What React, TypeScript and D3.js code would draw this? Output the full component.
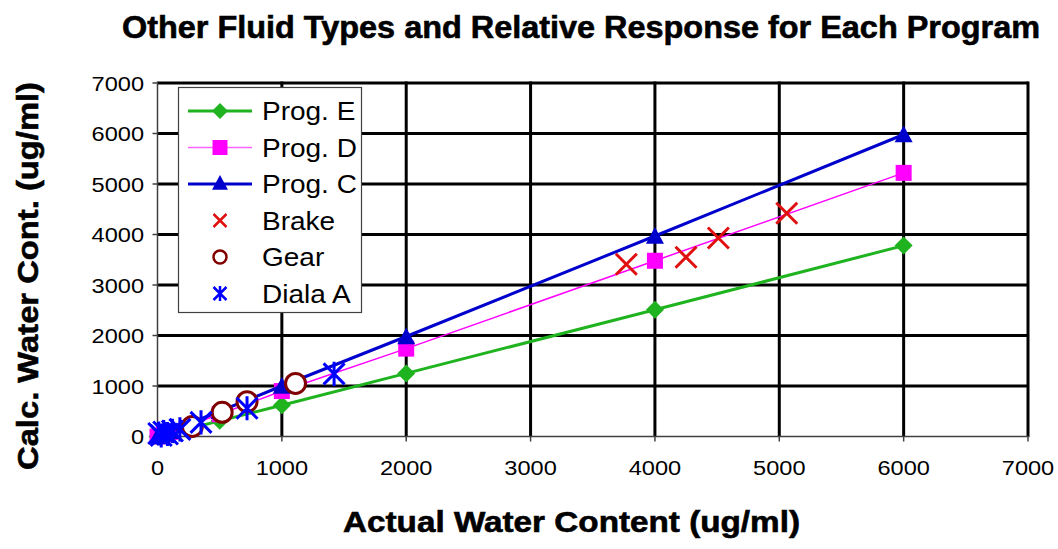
import React from "react";
import * as d3 from "d3";

// ---- data ----
const progX = [0, 50, 100, 500, 1000, 2000, 4000, 6000];
const progE = [0, 30, 60, 310, 620, 1250, 2510, 3780];
const progD = [0, 45, 90, 440, 900, 1740, 3480, 5220];
const progC = [0, 50, 100, 500, 1000, 1980, 3970, 5980];

const brakeX = [3770, 4250, 4510, 5060];
const brakeY = [3410, 3550, 3930, 4420];

const gearX = [280, 520, 720, 1110];
const gearY = [200, 480, 690, 1050];

const dialaX = [10, 30, 50, 80, 120, 180, 350, 720, 1420];
const dialaY = [60, 20, 90, 50, 110, 140, 280, 560, 1240];

const xTicks = [0, 1000, 2000, 3000, 4000, 5000, 6000, 7000];
const yTicks = [0, 1000, 2000, 3000, 4000, 5000, 6000, 7000];

const legendLabels = ["Prog. E", "Prog. D", "Prog. C", "Brake", "Gear", "Diala A"];

const GREEN = "#1fb31f";
const MAGENTA = "#ff00ff";
const BLUE_LINE = "#0000cc";
const BLUE = "#0000ff";
const RED = "#e01010";
const GEAR = "#800000";

const FONT = "'Liberation Sans', Arial, sans-serif";

function ST({ x, y, sx = 1.15, size = 20, anchor = "start", weight = "normal", children }: any) {
  return (
    <g transform={`translate(${x},${y}) scale(${sx},1)`}>
      <text x={0} y={0} fontSize={size} fontFamily={FONT} fontWeight={weight} textAnchor={anchor} fill="#000">
        {children}
      </text>
    </g>
  );
}

function Diamond({ cx, cy, r, fill }: any) {
  return <path d={`M${cx},${cy - r}L${cx + r},${cy}L${cx},${cy + r}L${cx - r},${cy}Z`} fill={fill} />;
}
function Square({ cx, cy, r, fill }: any) {
  return <rect x={cx - r} y={cy - r} width={2 * r} height={2 * r} fill={fill} />;
}
function Triangle({ cx, cy, r, fill }: any) {
  return <path d={`M${cx},${cy - r}L${cx + r},${cy + r * 0.85}L${cx - r},${cy + r * 0.85}Z`} fill={fill} />;
}
function Cross({ cx, cy, r, stroke, w }: any) {
  return (
    <path
      d={`M${cx - r},${cy - r}L${cx + r},${cy + r}M${cx - r},${cy + r}L${cx + r},${cy - r}`}
      stroke={stroke}
      strokeWidth={w}
      fill="none"
    />
  );
}
function Star({ cx, cy, r, stroke, w }: any) {
  return (
    <path
      d={`M${cx - r},${cy - r}L${cx + r},${cy + r}M${cx - r},${cy + r}L${cx + r},${cy - r}M${cx},${cy - r * 1.15}L${cx},${cy + r * 1.15}`}
      stroke={stroke}
      strokeWidth={w}
      fill="none"
    />
  );
}

export default function App() {
  const W = 1058;
  const H = 549;
  const x = d3.scaleLinear().domain([0, 7000]).range([157.5, 1028]);
  const y = d3.scaleLinear().domain([0, 7000]).range([436.5, 83]);

  const line = d3
    .line<[number, number]>()
    .x((d) => x(d[0]))
    .y((d) => y(d[1]));

  const ptsE = progX.map((v, i) => [v, progE[i]] as [number, number]);
  const ptsD = progX.map((v, i) => [v, progD[i]] as [number, number]);
  const ptsC = progX.map((v, i) => [v, progC[i]] as [number, number]);

  const legX = 178.5;
  const legY = 87.5;
  const legW = 183;
  const legH = 225;
  const rowY = (i: number) => 111 + i * 36.5;

  return (
    <svg width={W} height={H} style={{ position: "absolute", left: 0, top: 0, background: "#fff" }}>
      <rect x={0} y={0} width={W} height={H} fill="#fff" />
      {/* title */}
      <text
        x={122}
        y={38}
        fontSize={31}
        fontWeight="bold"
        fontFamily={FONT}
        textLength={918}
        lengthAdjust="spacingAndGlyphs"
        stroke="#000"
        strokeWidth={0.6}
      >
        Other Fluid Types and Relative Response for Each Program
      </text>

      {/* gridlines */}
      {yTicks.filter((t) => t > 0).map((t) => (
        <line key={"hy" + t} x1={x(0)} x2={x(7000)} y1={y(t)} y2={y(t)} stroke="#000" strokeWidth={3} />
      ))}
      {xTicks.filter((t) => t > 0).map((t) => (
        <line key={"vx" + t} x1={x(t)} x2={x(t)} y1={y(0)} y2={y(7000) - 1.5} stroke="#000" strokeWidth={3} />
      ))}

      {/* axes */}
      <line x1={x(0)} x2={x(0)} y1={y(0)} y2={y(7000) - 1.5} stroke="#404040" strokeWidth={1.5} />
      <line x1={x(0)} x2={x(7000) + 1.5} y1={y(0)} y2={y(0)} stroke="#404040" strokeWidth={1.5} />
      {yTicks.map((t) => (
        <line key={"ty" + t} x1={x(0) - 5} x2={x(0)} y1={y(t)} y2={y(t)} stroke="#404040" strokeWidth={1.5} />
      ))}
      {xTicks.map((t) => (
        <line key={"tx" + t} x1={x(t)} x2={x(t)} y1={y(0)} y2={y(0) + 5} stroke="#404040" strokeWidth={1.5} />
      ))}

      {/* tick labels */}
      {yTicks.map((t) => (
        <ST key={"ly" + t} x={144} y={y(t) + 7.5} anchor="end" size={20.5}>
          {t}
        </ST>
      ))}
      {xTicks.map((t) => (
        <ST key={"lx" + t} x={x(t)} y={475} anchor="middle" size={20.5}>
          {t}
        </ST>
      ))}

      {/* axis titles */}
      <text
        x={343}
        y={532}
        fontSize={29}
        fontWeight="bold"
        fontFamily={FONT}
        textLength={457}
        lengthAdjust="spacingAndGlyphs"
        stroke="#000"
        strokeWidth={0.6}
      >
        Actual Water Content (ug/ml)
      </text>
      <text
        transform={`translate(38,470) rotate(-90)`}
        x={0}
        y={0}
        fontSize={30}
        fontWeight="bold"
        fontFamily={FONT}
        textLength={388}
        lengthAdjust="spacingAndGlyphs"
        stroke="#000"
        strokeWidth={0.6}
      >
        Calc. Water Cont. (ug/ml)
      </text>

      {/* Prog. E */}
      <path d={line(ptsE) || ""} stroke={GREEN} strokeWidth={3} fill="none" />
      {ptsE.map((p, i) => (
        <Diamond key={"e" + i} cx={x(p[0])} cy={y(p[1])} r={9} fill={GREEN} />
      ))}
      {/* Prog. D */}
      <path d={line(ptsD) || ""} stroke={MAGENTA} strokeWidth={1.5} fill="none" />
      {ptsD.map((p, i) => (
        <Square key={"d" + i} cx={x(p[0])} cy={y(p[1])} r={8} fill={MAGENTA} />
      ))}
      {/* Prog. C */}
      <path d={line(ptsC) || ""} stroke={BLUE_LINE} strokeWidth={3} fill="none" />
      {ptsC.map((p, i) => (
        <Triangle key={"c" + i} cx={x(p[0])} cy={y(p[1])} r={9} fill={BLUE_LINE} />
      ))}
      {/* Brake */}
      {brakeX.map((v, i) => (
        <Cross key={"b" + i} cx={x(v)} cy={y(brakeY[i])} r={10.5} stroke={RED} w={3} />
      ))}
      {/* Gear */}
      {gearX.map((v, i) => (
        <circle key={"g" + i} cx={x(v)} cy={y(gearY[i])} r={10} fill="#fff" stroke={GEAR} strokeWidth={3} />
      ))}
      {/* Diala A */}
      {dialaX.map((v, i) => (
        <Star key={"a" + i} cx={x(v)} cy={y(dialaY[i])} r={10.5} stroke={BLUE} w={3} />
      ))}

      {/* legend */}
      <rect x={legX} y={legY} width={legW} height={legH} fill="#fff" stroke="#404040" strokeWidth={1.2} />
      {legendLabels.map((lab, i) => {
        const cy = rowY(i);
        const cx = 220;
        let sym = null;
        if (i === 0)
          sym = (
            <g>
              <line x1={188} x2={252} y1={cy} y2={cy} stroke={GREEN} strokeWidth={3} />
              <Diamond cx={cx} cy={cy} r={8} fill={GREEN} />
            </g>
          );
        if (i === 1)
          sym = (
            <g>
              <line x1={188} x2={252} y1={cy} y2={cy} stroke={MAGENTA} strokeWidth={1.5} opacity={0.6} />
              <Square cx={cx} cy={cy} r={7.5} fill={MAGENTA} />
            </g>
          );
        if (i === 2)
          sym = (
            <g>
              <line x1={188} x2={252} y1={cy} y2={cy} stroke={BLUE_LINE} strokeWidth={3} />
              <Triangle cx={cx} cy={cy - 1} r={8} fill={BLUE_LINE} />
            </g>
          );
        if (i === 3) sym = <Cross cx={cx} cy={cy} r={6.5} stroke={RED} w={2.5} />;
        if (i === 4) sym = <circle cx={cx} cy={cy} r={6.5} fill="#fff" stroke={GEAR} strokeWidth={2.5} />;
        if (i === 5) sym = <Star cx={cx} cy={cy} r={6.5} stroke={BLUE} w={2.5} />;
        return (
          <g key={"lg" + i}>
            {sym}
            <ST x={262} y={cy + 9} size={25} sx={1.12}>
              {lab}
            </ST>
          </g>
        );
      })}
    </svg>
  );
}
